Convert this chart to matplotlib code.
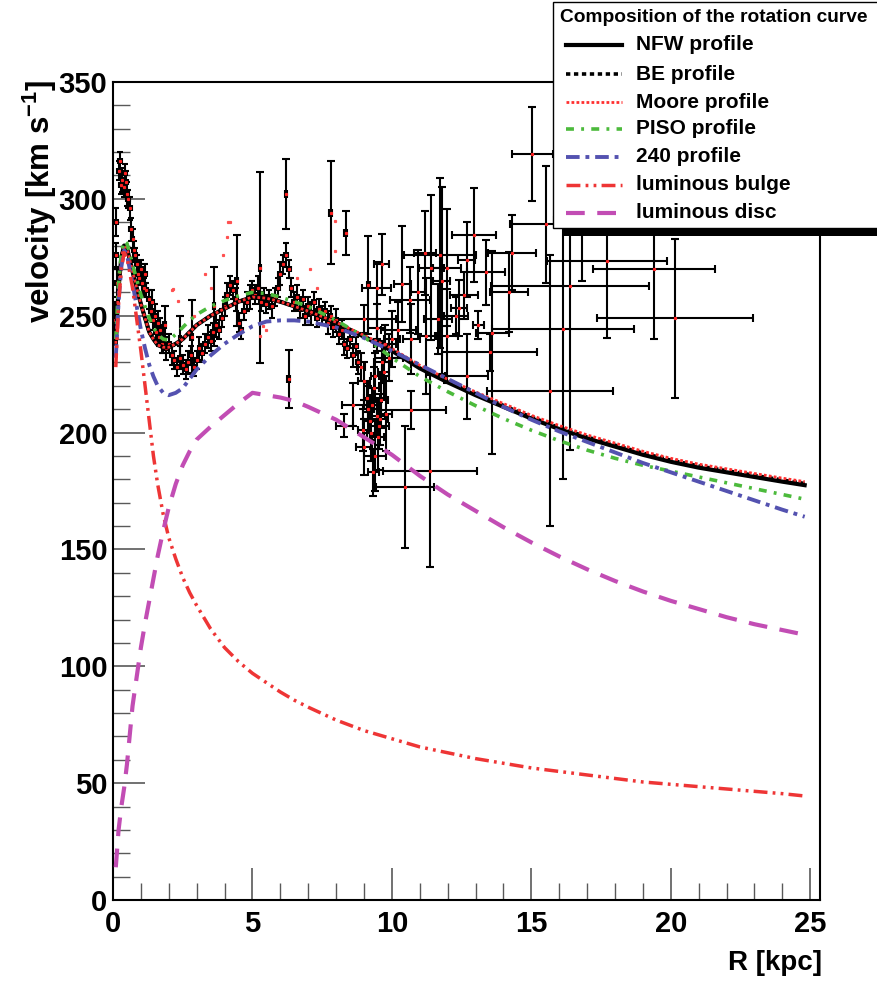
import matplotlib
matplotlib.use('Agg')
import matplotlib.pyplot as plt
from matplotlib.lines import Line2D
from matplotlib.patches import Rectangle

plt.rcParams['font.family'] = ['Liberation Sans', 'DejaVu Sans']
plt.rcParams['font.weight'] = 'bold'
plt.rcParams['mathtext.fontset'] = 'custom'
plt.rcParams['mathtext.rm'] = 'Liberation Sans:bold'
plt.rcParams['mathtext.bf'] = 'Liberation Sans:bold'
plt.rcParams['mathtext.default'] = 'bf'

# ---------------- model curves ----------------
R_model = [0.1, 0.2, 0.3, 0.4, 0.5, 0.7, 1.0, 1.15, 1.3, 1.45, 1.6, 1.8, 2.0, 2.25, 2.5,
           2.75, 3.0, 3.5, 4.0, 4.5, 5.0, 5.5, 6.0, 6.5, 7.0, 8, 9, 10, 11, 12, 13, 14,
           15, 16, 17, 18, 19, 20, 21, 22, 23, 24, 24.8]
v_nfw = [238, 262, 275, 280, 279, 269, 255, 249, 243, 240, 237.5, 236.5, 236.5, 238, 240,
         243, 246, 250, 253, 256, 258, 257.5, 256, 254, 252, 247, 241, 235, 227.5, 221.5,
         216, 211, 206, 201.5, 197.5, 194, 190.5, 187.5, 185, 183, 181, 179, 177.5]
v_be = [238, 262, 275, 280, 279, 269, 255, 249, 243, 240, 237.5, 236.5, 236.5, 238, 240,
        243, 246, 250, 253, 256, 258, 257.5, 256, 254, 252, 247, 241.2, 235.4, 228, 222,
        216.6, 211.6, 206.6, 202.1, 198.1, 194.6, 191.2, 188.2, 185.7, 183.7, 181.7, 179.7,
        178.2]
v_moore = [238, 262, 275, 280, 279, 269, 255, 249, 243, 240, 237.5, 236.5, 236.5, 238, 240,
           243, 246, 250, 253, 256, 258, 257.5, 256, 254, 252, 247.2, 241.6, 236, 228.8,
           222.8, 217.4, 212.4, 207.4, 203, 199, 195.5, 192, 189, 186.5, 184.5, 182.5, 180.5,
           179]
v_piso = [240, 264, 277, 282, 281, 272, 259, 254, 249, 245, 242, 240, 239.5, 242, 245,
          248, 250.5, 254, 256.5, 258.5, 260, 259.5, 258, 256, 254, 248, 241, 232, 224,
          217.5, 211.5, 206, 201, 196.5, 192.5, 189, 186, 183.5, 181, 178.5, 176, 173.5,
          171.5]
v_240 = [232, 256, 271, 278, 276, 264, 244, 236, 229, 224, 220, 217, 216, 217, 219,
         223, 227, 233, 238, 242, 245.5, 247.5, 248, 248, 247.5, 245, 240.5, 235, 229, 223,
         217, 211, 205.5, 200.5, 196, 191.5, 187, 183, 179, 175, 171, 167, 164]
v_bulge = [228, 255, 270, 277, 275, 262, 235, 220, 205, 190, 178, 165, 155, 146, 138,
           131.5, 126, 116, 108, 102, 97, 93, 89, 85.5, 82.5, 77, 72.5, 69, 65.5, 63,
           60.5, 58.5, 56.5, 55, 53.5, 52, 50.5, 49.5, 48.5, 47.5, 46.5, 45.5, 44.5]
v_disc = [14, 30, 40, 48, 58, 83, 108, 118.5, 128, 137.5, 147, 158, 168, 178, 186,
          192, 197, 202.5, 207.5, 212.5, 217, 216, 215, 213.5, 211, 205.5, 198, 190.5,
          181.5, 173.5, 166.5, 159.5, 153, 147, 141.5, 136.5, 132, 128, 124.5, 121, 118,
          115.5, 113.5]

# ---------------- dense inner data (R, v, error) ----------------
inner_R = [0.08, 0.10, 0.12, 0.15, 0.22, 0.26, 0.30, 0.34, 0.38, 0.42, 0.46, 0.50, 0.55,
           0.60, 0.65, 0.70, 0.75, 0.80, 0.85, 0.90, 0.95, 1.00, 1.05, 1.10, 1.15, 1.20,
           1.30, 1.35, 1.40, 1.45, 1.50, 1.55, 1.60, 1.65, 1.70, 1.75, 1.80, 1.90, 2.00,
           2.10, 2.20, 2.30, 2.40, 2.50, 2.60, 2.70, 2.80, 2.90, 3.00, 3.10, 3.20, 3.30,
           3.40, 3.50, 3.60, 3.70, 3.80, 3.90, 4.00, 4.10, 4.20, 4.30, 4.40, 4.50, 4.60,
           4.70, 4.80, 4.90, 5.00, 5.10, 5.20, 5.30, 5.40, 5.50, 5.60, 5.70, 5.80, 5.90,
           6.00, 6.10, 6.20, 6.30, 6.40, 6.50, 6.60, 6.70, 6.80, 6.90, 7.00, 7.10, 7.20,
           7.30, 7.40, 7.50, 7.60, 7.70, 7.80, 7.90, 8.00, 8.10, 8.20, 8.30, 8.40, 8.50,
           8.60, 8.70, 8.80]
inner_v = [248, 290, 276, 264, 312, 316, 306, 308, 305, 311, 307, 302, 300,
           296, 287, 283, 278, 276, 272, 268, 266, 270, 264, 262, 268, 261,
           257, 252, 256, 248, 250, 243, 247, 241, 244, 238, 240, 236, 238,
           233, 231, 228, 232, 229, 227, 230, 233, 228, 231, 236, 234, 238,
           241, 239, 243, 246, 244, 249, 254, 259, 263, 261, 257, 247, 244,
           252, 256, 258, 261, 259, 262, 256, 258, 255, 257, 254, 258, 262,
           268, 272, 276, 270, 262, 256, 258, 253, 257, 250, 254, 251, 256,
           249, 253, 250, 252, 247, 250, 245, 248, 242, 244, 238, 236, 240,
           233, 237, 230]
inner_e = [8, 6, 5, 6, 4, 4, 4, 5, 4, 4, 5, 5, 4,
           5, 5, 4, 4, 3, 4, 4, 3, 4, 5, 4, 4, 3,
           4, 4, 5, 4, 5, 4, 5, 4, 5, 4, 6, 5, 4,
           4, 4, 4, 5, 4, 4, 5, 4, 4, 4, 5, 4, 4,
           5, 4, 4, 5, 4, 4, 4, 5, 4, 4, 5, 4, 4,
           4, 4, 5, 4, 4, 5, 4, 4, 4, 4, 5, 4, 4,
           5, 4, 5, 4, 4, 4, 5, 4, 4, 4, 4, 5, 4,
           4, 4, 4, 4, 5, 4, 4, 5, 4, 4, 5, 4, 4,
           5, 4, 5]

# inner points with larger uncertainties
big_R = [2.82, 3.62, 4.43, 5.27, 6.2, 6.3, 7.8, 8.35, 1.85, 2.4]
big_v = [241, 254, 265, 270.6, 302, 223, 294, 285.4, 246, 240]
big_e = [15.6, 17, 19.6, 40.7, 15, 12.5, 22, 9.3, 8, 10]

# transition region 8.3 - 10 kpc (R, v, xerr, yerr)
tr_R = [8.9, 9.0, 9.1, 9.15, 9.2, 9.25, 9.3, 9.35, 9.4, 9.45, 9.5, 9.55, 9.6, 9.65,
        9.7, 9.75, 9.8, 9.9, 10.0, 8.3, 8.6, 9.0, 9.4, 8.97, 9.33, 9.57]
tr_v = [228, 222, 215, 210, 205, 200, 212, 219, 224, 207, 198, 203, 214, 230,
        226, 238, 208, 232, 240, 203, 212, 194, 190, 201, 183, 205.6]
tr_ex = [0.15, 0.2, 0.1, 0.2, 0.25, 0.15, 0.3, 0.2, 0.15, 0.3, 0.2, 0.35, 0.25, 0.3,
         0.2, 0.4, 0.2, 0.5, 0.3, 0.3, 0.4, 0.3, 0.4, 0.2, 0.2, 0.3]
tr_ey = [6, 8, 6, 10, 8, 12, 7, 9, 10, 8, 14, 10, 12, 9,
         11, 8, 16, 10, 12, 5, 9, 12, 15, 9, 10, 11]

# outer points (R, v, xerr, yerr low, yerr high)
out_R = [9.63, 9.45, 9.15, 9.0, 10.37, 10.64, 10.94, 11.18, 11.42, 11.72, 11.78, 11.98,
         12.68, 12.94, 12.6, 12.41, 12.3, 11.66, 9.45, 10.23, 11.24, 11.98, 10.7, 13.1,
         13.37, 14.2, 14.32, 15.04, 15.54, 13.6, 13.5, 12.68, 11.36, 10.47, 10.7, 16.38,
         17.7, 19.4, 20.15, 16.14, 15.66, 16.8]
out_v = [272, 262, 263, 248.5, 263.5, 256.8, 260, 277, 270.6, 276, 265, 270.6,
         274, 284.5, 258.8, 253.4, 250, 248.5, 244.9, 243.9, 241.3, 241.3, 240, 246,
         268.5, 260.2, 277, 319.2, 289.2, 242.8, 234.3, 224, 183.5, 176.8, 209.6, 262.7,
         273.5, 270, 249, 244.2, 218, 291]
out_ex = [0.27, 0.52, 0.05, 1.16, 0.3, 0.72, 0.25, 0.4, 0.45, 1.3, 0.3, 0.5,
          0.3, 0.8, 0.5, 0.3, 0.42, 0.5, 0.3, 0.63, 0.3, 0.4, 0.3, 0.2,
          0.68, 0.69, 0.86, 0.72, 1.3, 0.6, 1.7, 0.78, 1.68, 1.05, 1.25, 2.83,
          2.15, 2.2, 2.8, 2.55, 2.25, 1.0]
out_elo = [13, 22, 21, 6, 16, 14, 18, 18, 31, 40, 40, 25,
           16, 20, 10, 12, 8, 15, 10, 12, 25, 20, 15, 6,
           14, 17, 16, 20, 25, 52, 8, 18, 41, 26, 8, 70,
           33, 30, 34, 64, 58, 26]
out_ehi = [13, 11, 21, 6, 25, 14, 18, 18, 31, 33, 40, 25,
           16, 20, 10, 12, 8, 15, 10, 12, 25, 20, 15, 6,
           14, 17, 16, 20, 25, 35, 8, 18, 41, 26, 8, 70,
           33, 30, 34, 64, 58, 26]

# isolated red measurements without error bars
red_R = [4.13, 4.07, 3.96, 3.3, 2.1, 2.34, 4.19, 2.16, 7.06, 7.96, 7.96, 5.27, 5.39, 5.5,
         3.5, 6.6, 7.3, 2.9]
red_v = [290, 283.5, 276, 267.8, 261, 256.4, 290, 261.3, 270, 277.8, 290.6, 241.3, 245.6, 244,
         262, 266, 262, 250]

# ---------------- figure ----------------
fig = plt.figure(figsize=(8.77, 9.83), dpi=100)
ax = fig.add_axes([113/877, 83/983, (820-113)/877, (900-82)/983])
ax.set_xlim(0, 25.35)
ax.set_ylim(0, 350)

eb = dict(fmt='s', ms=1.3, mfc='#ff2020', mec='#ff2020', ecolor='black', elinewidth=1.5,
          capthick=1.5, zorder=2)
ax.errorbar(inner_R, inner_v, yerr=inner_e, xerr=0.07, capsize=2.5, **eb)
ax.errorbar(big_R, big_v, yerr=big_e, xerr=0.05, capsize=3, **eb)
ax.errorbar(tr_R, tr_v, yerr=tr_ey, xerr=tr_ex, capsize=3, **eb)
ax.errorbar(out_R, out_v, yerr=[out_elo, out_ehi], xerr=out_ex, capsize=3, **eb)
ax.plot(red_R, red_v, 's', ms=1.3, color='#ff5050', zorder=2, linestyle='none')

styles = [
    ('NFW profile', v_nfw, dict(color='black', lw=3.0, ls='-')),
    ('BE profile', v_be, dict(color='black', lw=2.6, ls=(0, (1.2, 1.0)))),
    ('Moore profile', v_moore, dict(color='#ff3030', lw=2.0, ls=(0, (1.0, 0.8)))),
    ('PISO profile', v_piso, dict(color='#4cba3c', lw=2.6, ls=(0, (2.2, 2.0, 0.8, 2.0)))),
    ('240 profile', v_240, dict(color='#5452b0', lw=2.8, ls=(0, (3.5, 1.5, 1.0, 1.5)))),
    ('luminous bulge', v_bulge, dict(color='#ee3535', lw=2.5,
                                     ls=(0, (4, 1.5, 0.8, 1.5, 0.8, 1.5)))),
    ('luminous disc', v_disc, dict(color='#c24db4', lw=3.0, ls=(0, (4.5, 3.0)))),
]
for name, vals, st in styles:
    ax.plot(R_model, vals, zorder=3, **st)

# axes style (ROOT-like)
for s in ax.spines.values():
    s.set_linewidth(1.5)
ax.set_xticks([0, 5, 10, 15, 20, 25])
ax.set_xticks(range(0, 26), minor=True)
ax.set_yticks(range(0, 351, 50))
ax.set_yticks(range(0, 351, 10), minor=True)
ax.tick_params(direction='in', which='major', length=23, width=1.2, color='0.35',
               labelsize=21, top=False, right=False)
ax.tick_params(direction='in', which='minor', length=12, width=1.0, color='0.35',
               top=False, right=False)
ax.tick_params(axis='x', which='major', pad=7)
ax.tick_params(axis='y', which='major', pad=4)
for lab in ax.get_xticklabels() + ax.get_yticklabels():
    lab.set_fontweight('bold')

fig.text(40/877, 1 - 80/983, r'velocity [km s$^{-1}$]', rotation=90, ha='center',
         va='top', fontsize=22.5, fontweight='bold')
fig.text(822/877, 1 - 963/983, 'R [kpc]', ha='right', va='center', fontsize=20,
         fontweight='bold')

# ---------------- legend (drawn in figure pixels) ----------------
W, H = 877.0, 983.0
def fx(p):
    return p / W
def fy(p):
    return 1 - p / H

fig.patches.append(Rectangle((fx(563), fy(236)), fx(877) - fx(563), fy(228) - fy(236),
                             transform=fig.transFigure, facecolor='black',
                             edgecolor='none', zorder=9))
fig.patches.append(Rectangle((fx(553), fy(228)), fx(880) - fx(553), fy(2) - fy(228),
                             transform=fig.transFigure, facecolor='white',
                             edgecolor='black', lw=1.0, zorder=10))
fig.text(fx(560), fy(17), 'Composition of the rotation curve', ha='left', va='center',
         fontsize=13.8, fontweight='bold', zorder=11)
ys = [45, 74, 102, 129, 157, 185, 213]
for (name, vals, st), yy in zip(styles, ys):
    fig.add_artist(Line2D([fx(566), fx(622)], [fy(yy), fy(yy)], transform=fig.transFigure,
                          zorder=11, **st))
    fig.text(fx(636), fy(yy), name, ha='left', va='center', fontsize=15,
             fontweight='bold', zorder=11)

fig.savefig('out.png', dpi=100)
